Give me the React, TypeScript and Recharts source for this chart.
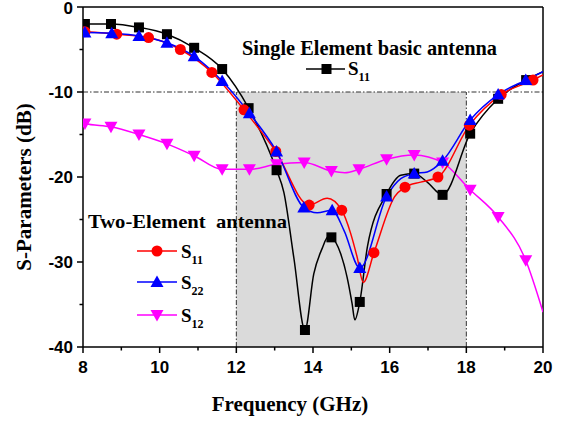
import React from 'react';
import {
  LineChart,
  Line,
  XAxis,
  YAxis,
  ReferenceArea,
  ReferenceLine
} from 'recharts';

type Pt = [number, number];

// axis ticks (majors get labels)
const xTicks = [8, 9, 10, 11, 12, 13, 14, 15, 16, 17, 18, 19, 20];
const yTicks = [-40, -35, -30, -25, -20, -15, -10, -5, 0];
const xMajor = [8, 10, 12, 14, 16, 18, 20];
const yMajor = [0, -10, -20, -30, -40];

// Single element basic antenna, S11 (black squares)
const singleS11Marks: Pt[] = [
  [8.05, -2.0], [8.73, -2.0], [9.46, -2.4], [10.19, -3.2], [10.9, -4.8], [11.63, -7.3],
  [12.32, -11.9], [13.05, -19.2], [13.79, -38.0], [14.48, -27.1], [15.22, -34.7],
  [15.92, -22.0], [16.64, -19.6], [17.38, -22.1], [18.1, -14.9], [18.83, -10.8], [19.56, -8.6]
];
const singleS11Extra: Pt[] = [
  [8.0, -2.0], [13.24, -21.8], [13.5, -29.5], [14.02, -31.4], [14.24, -28.4], [14.4, -27.0],
  [14.72, -29.0], [14.89, -31.8], [15.02, -34.9], [15.09, -36.8], [15.42, -28.2],
  [16.29, -19.8], [16.98, -20.6], [20.0, -7.6]
];

// Two-element antenna, S11 (red circles)
const twoS11Marks: Pt[] = [
  [8.05, -2.9], [8.88, -3.2], [9.71, -3.6], [10.54, -5.0], [11.36, -7.7], [12.2, -12.1],
  [13.03, -17.0], [13.9, -23.3], [14.75, -23.9], [15.59, -28.9], [16.4, -21.2],
  [17.26, -20.0], [18.08, -13.9], [18.91, -10.3], [19.74, -8.6]
];
const twoS11Extra: Pt[] = [
  [8.0, -2.9], [14.37, -22.5], [14.98, -26.6], [15.15, -29.4], [15.31, -32.4],
  [16.13, -22.3], [16.81, -20.6], [20.0, -8.0]
];

// Two-element antenna, S22 (blue triangles)
const twoS22Marks: Pt[] = [
  [8.05, -3.0], [8.75, -3.1], [9.46, -3.4], [10.19, -4.2], [10.9, -5.8], [11.63, -8.7],
  [12.34, -12.5], [13.05, -17.0], [13.76, -23.6], [14.5, -23.9], [15.22, -30.7],
  [15.92, -22.3], [16.64, -19.6], [17.38, -18.1], [18.1, -13.3], [18.83, -10.3], [19.55, -8.6]
];
const twoS22Extra: Pt[] = [
  [8.0, -3.0], [14.11, -24.2], [14.81, -26.3], [16.29, -20.2], [16.98, -19.4], [20.0, -7.6]
];

// Two-element antenna, S12 (magenta down triangles)
const twoS12Marks: Pt[] = [
  [8.05, -13.7], [8.73, -14.1], [9.46, -15.0], [10.19, -16.1], [10.9, -17.5], [11.63, -19.1],
  [12.34, -19.1], [13.05, -18.5], [13.77, -18.3], [14.48, -19.3], [15.2, -19.1],
  [15.92, -17.9], [16.64, -17.4], [17.38, -18.3], [18.1, -21.5], [18.83, -24.7], [19.55, -29.8]
];
const twoS12Extra: Pt[] = [[8.0, -13.6], [14.83, -19.5], [20.0, -35.9]];

const toRows = (pts: Pt[]) => pts.map(([f, v]) => ({ f, v }));
const curve = (marks: Pt[], extra: Pt[]) =>
  toRows([...marks, ...extra].sort((a, b) => a[0] - b[0]));

const SERIF = '"Liberation Serif", "Times New Roman", serif';
const SANS = '"Liberation Sans", Arial, sans-serif';

const Square = (p: any) => (
  <rect key={p.index} x={p.cx - 5} y={p.cy - 5} width={10} height={10} fill="#000" />
);
const Circle = (p: any) => <circle key={p.index} cx={p.cx} cy={p.cy} r={5.5} fill="#ff0000" />;
const TriUp = (p: any) => (
  <polygon key={p.index} points={`${p.cx},${p.cy - 6.5} ${p.cx - 6.5},${p.cy + 5} ${p.cx + 6.5},${p.cy + 5}`} fill="#0000ff" />
);
const TriDown = (p: any) => (
  <polygon key={p.index} points={`${p.cx - 6.5},${p.cy - 5} ${p.cx + 6.5},${p.cy - 5} ${p.cx},${p.cy + 6.5}`} fill="#ff00ff" />
);

const XTick = ({ x, y, payload }: any) => {
  const major = xMajor.includes(payload.value);
  return (
    <g>
      <line x1={x} x2={x} y1={y} y2={y + (major ? 6 : 3.5)} stroke="#000" strokeWidth={1.5} />
      {major && (
        <text x={x} y={y + 26} textAnchor="middle" fontFamily={SANS} fontWeight="bold" fontSize={17} fill="#000">
          {payload.value}
        </text>
      )}
    </g>
  );
};

const YTick = ({ x, y, payload }: any) => {
  const major = yMajor.includes(payload.value);
  // the top label sits against the page edge, nudge it down a touch
  const dy = payload.value === 0 ? 7 : 6;
  return (
    <g>
      <line x1={x} x2={x - (major ? 6 : 3.5)} y1={y} y2={y} stroke="#000" strokeWidth={1.5} />
      {major && (
        <text x={x - 10} y={y + dy} textAnchor="end" fontFamily={SANS} fontWeight="bold" fontSize={17} fill="#000">
          {payload.value}
        </text>
      )}
    </g>
  );
};

const Sub = ({ x, y, main, sub }: { x: number; y: number; main: string; sub: string }) => (
  <text x={x} y={y} fontFamily={SERIF} fontWeight="bold" fontSize={19} fill="#000">
    {main}
    <tspan dy={6} fontSize={12}>{sub}</tspan>
  </text>
);

const Annotations = () => (
  <svg width={565} height={421} style={{ position: 'absolute', left: 0, top: 0, pointerEvents: 'none' }}>
    <text x={242} y={55} fontFamily={SERIF} fontWeight="bold" fontSize={20} textLength={255} lengthAdjust="spacingAndGlyphs">
      Single Element basic antenna
    </text>
    <line x1={306} x2={345} y1={69} y2={69} stroke="#000" strokeWidth={1.5} />
    <rect x={321.5} y={64} width={10} height={10} fill="#000" />
    <Sub x={348} y={75} main="S" sub="11" />

    <text x={88} y={228} fontFamily={SERIF} fontWeight="bold" fontSize={19} textLength={199} lengthAdjust="spacingAndGlyphs">
      {'Two-Element\u00a0 antenna'}
    </text>
    <line x1={137} x2={177} y1={251} y2={251} stroke="#ff0000" strokeWidth={1.5} />
    <circle cx={157} cy={251} r={5.5} fill="#ff0000" />
    <Sub x={181} y={258} main="S" sub="11" />
    <line x1={137} x2={177} y1={282} y2={282} stroke="#0000ff" strokeWidth={1.5} />
    <polygon points="157,275.5 150.5,287 163.5,287" fill="#0000ff" />
    <Sub x={181} y={289} main="S" sub="22" />
    <line x1={137} x2={177} y1={315} y2={315} stroke="#ff00ff" strokeWidth={1.5} />
    <polygon points="150.5,310 163.5,310 157,321.5" fill="#ff00ff" />
    <Sub x={181} y={322} main="S" sub="12" />

    <text x={290} y={411} textAnchor="middle" fontFamily={SERIF} fontWeight="bold" fontSize={21}>
      Frequency (GHz)
    </text>
    <text x={31} y={187} textAnchor="middle" transform="rotate(-90 31 187)" fontFamily={SERIF} fontWeight="bold" fontSize={21}>
      S-Parameters (dB)
    </text>
  </svg>
);

export default function App() {
  return (
    <div style={{ position: 'absolute', left: 0, top: 0, width: 565, height: 421, background: '#fff' }}>
      <LineChart width={565} height={421} margin={{ top: 7, right: 22, bottom: 0, left: 0 }}>
        <XAxis
          type="number"
          dataKey="f"
          domain={[8, 20]}
          ticks={xTicks}
          interval={0}
          allowDataOverflow
          height={74}
          tickSize={0}
          tickMargin={0}
          tickLine={false}
          axisLine={{ stroke: '#000', strokeWidth: 1.5 }}
          tick={(p: any) => <XTick {...p} />}
        />
        <YAxis
          type="number"
          domain={[-40, 0]}
          ticks={yTicks}
          interval={0}
          allowDataOverflow
          width={83}
          tickSize={0}
          tickMargin={0}
          tickLine={false}
          axisLine={{ stroke: '#000', strokeWidth: 1.5 }}
          tick={(p: any) => <YTick {...p} />}
        />
        <ReferenceArea x1={12} x2={18} y1={-40} y2={-10} fill="#dadada" fillOpacity={1} stroke="none" />
        <ReferenceLine y={-10} stroke="#333" strokeWidth={1} strokeDasharray="5 2 1.5 2" />
        <ReferenceLine segment={[{ x: 12, y: -40 }, { x: 12, y: -10 }]} stroke="#333" strokeWidth={1} strokeDasharray="5 2 1.5 2" />
        <ReferenceLine segment={[{ x: 18, y: -40 }, { x: 18, y: -10 }]} stroke="#333" strokeWidth={1} strokeDasharray="5 2 1.5 2" />
        <ReferenceLine y={0} stroke="#000" strokeWidth={1.5} />
        <ReferenceLine x={20} stroke="#000" strokeWidth={1.5} />

        <Line data={curve(twoS12Marks, twoS12Extra)} dataKey="v" type="monotone" stroke="#ff00ff" strokeWidth={1.5} dot={false} activeDot={false} isAnimationActive={false} />
        <Line data={curve(singleS11Marks, singleS11Extra)} dataKey="v" type="monotone" stroke="#000" strokeWidth={1.5} dot={false} activeDot={false} isAnimationActive={false} />
        <Line data={curve(twoS11Marks, twoS11Extra)} dataKey="v" type="monotone" stroke="#ff0000" strokeWidth={1.5} dot={false} activeDot={false} isAnimationActive={false} />
        <Line data={curve(twoS22Marks, twoS22Extra)} dataKey="v" type="monotone" stroke="#0000ff" strokeWidth={1.5} dot={false} activeDot={false} isAnimationActive={false} />

        <Line data={toRows(twoS12Marks)} dataKey="v" stroke="none" dot={TriDown} activeDot={false} isAnimationActive={false} />
        <Line data={toRows(singleS11Marks)} dataKey="v" stroke="none" dot={Square} activeDot={false} isAnimationActive={false} />
        <Line data={toRows(twoS11Marks)} dataKey="v" stroke="none" dot={Circle} activeDot={false} isAnimationActive={false} />
        <Line data={toRows(twoS22Marks)} dataKey="v" stroke="none" dot={TriUp} activeDot={false} isAnimationActive={false} />
      </LineChart>
      <Annotations />
    </div>
  );
}
